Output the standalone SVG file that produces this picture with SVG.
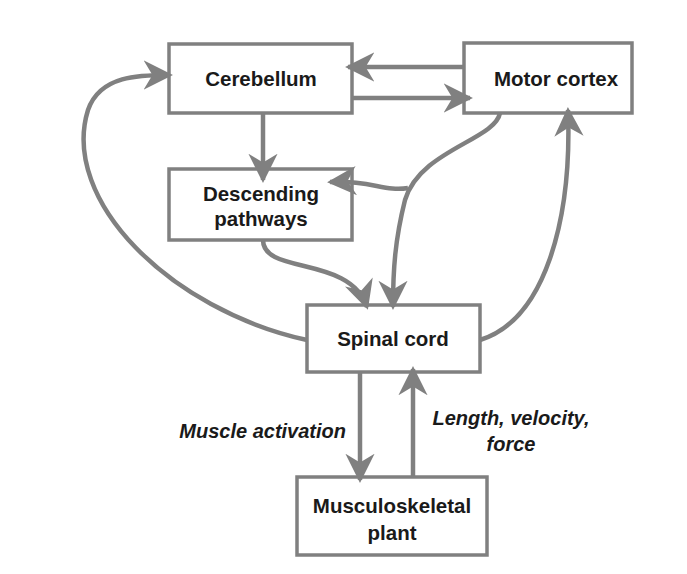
<svg xmlns="http://www.w3.org/2000/svg" width="687" height="574" viewBox="0 0 687 574">
<style>
.box{fill:#fff;stroke:#808080;stroke-width:3.5}
.c{fill:none;stroke:#808080;stroke-width:4.5}
text{font-family:"Liberation Sans",Arial,sans-serif;font-weight:bold;font-size:20.5px;fill:#1a1a1a}
.l{font-style:italic;font-size:20px}
</style>
<defs>
<marker id="a" viewBox="0 0 10 10" refX="9" refY="5" markerWidth="6.5" markerHeight="6.5" orient="auto" markerUnits="strokeWidth">
<path d="M0,0 L10,5 L0,10 L3,5 Z" fill="#808080"/>
</marker>
</defs>
<rect width="687" height="574" fill="#fff"/>
<g id="cerebellum"><rect class="box" x="169" y="44" width="183" height="69"/><text x="261" y="86" text-anchor="middle">Cerebellum</text></g>
<g id="motor-cortex"><rect class="box" x="464" y="43" width="168" height="70"/><text x="556" y="86" text-anchor="middle">Motor cortex</text></g>
<g id="descending"><rect class="box" x="169" y="169" width="183" height="71"/><text x="261" y="201" text-anchor="middle">Descending</text><text x="261" y="226" text-anchor="middle">pathways</text></g>
<g id="spinal-cord"><rect class="box" x="307" y="305" width="173" height="67"/><text x="393" y="346" text-anchor="middle">Spinal cord</text></g>
<g id="plant"><rect class="box" x="297" y="477" width="190" height="78"/><text x="392" y="513" text-anchor="middle">Musculoskeletal</text><text x="392" y="540" text-anchor="middle">plant</text></g>
<g id="connectors">
<path class="c" d="M464,67 H348" marker-end="url(#a)"/>
<path class="c" d="M352,98 H470" marker-end="url(#a)"/>
<path class="c" d="M263,113 V180" marker-end="url(#a)"/>
<path class="c" d="M500,113 C495,140 420,150 405,200 C395,240 393,270 393,307" marker-end="url(#a)"/>
<path class="c" d="M408,188 C385,192 370,180 330,182" marker-end="url(#a)"/>
<path class="c" d="M263,240 C263,275 350,255 367,307" marker-end="url(#a)"/>
<path class="c" d="M307,340 C170,310 60,200 88,110 C100,75 140,75 170,75" marker-end="url(#a)"/>
<path class="c" d="M480,340 C545,320 572,220 568,110" marker-end="url(#a)"/>
<path class="c" d="M360,372 V480" marker-end="url(#a)"/>
<path class="c" d="M413,477 V369" marker-end="url(#a)"/>
</g>
<g id="labels">
<text class="l" x="346" y="438" text-anchor="end">Muscle activation</text>
<text class="l" x="511" y="425" text-anchor="middle">Length, velocity,</text>
<text class="l" x="511" y="451" text-anchor="middle">force</text>
</g>
</svg>
